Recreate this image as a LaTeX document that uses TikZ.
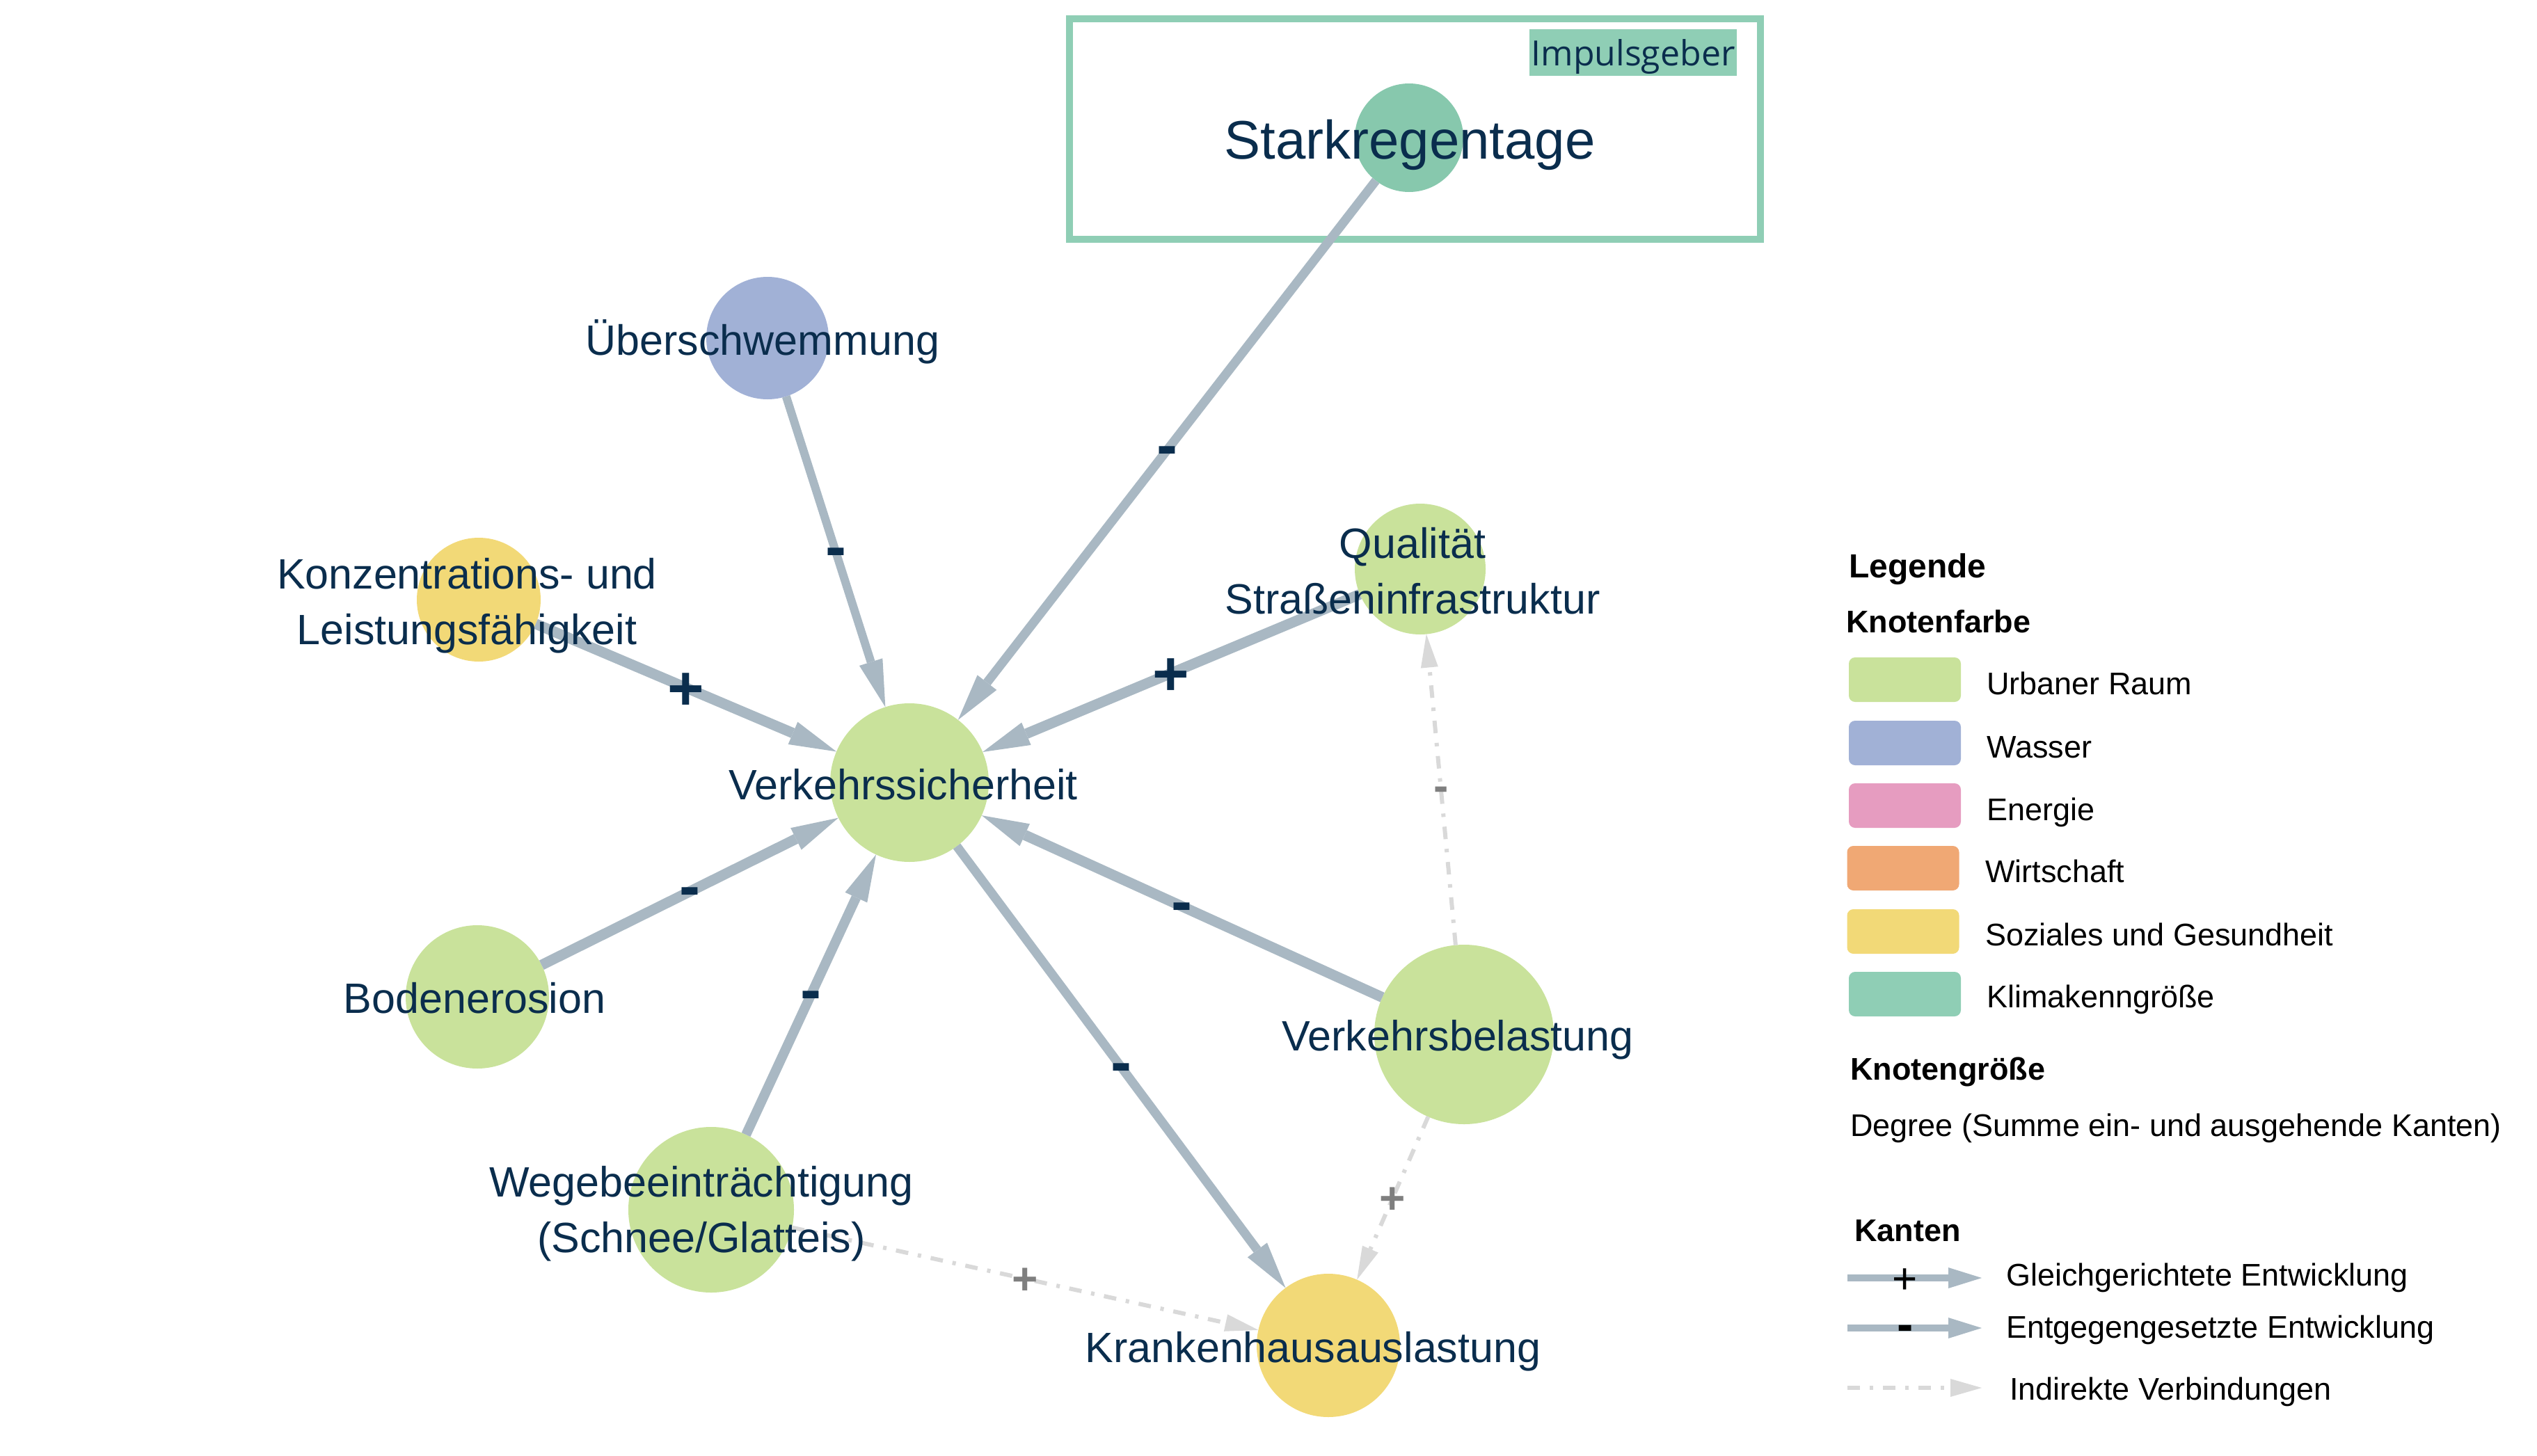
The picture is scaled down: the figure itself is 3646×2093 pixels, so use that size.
\documentclass[tikz,border=0pt]{standalone}
\usepackage{fontspec}
\setmainfont{Liberation Sans}
\newfontfamily\impfont{Open Sans}
\usetikzlibrary{arrows.meta}
\definecolor{edgec}{HTML}{A9B8C3}
\definecolor{navy}{HTML}{0A2D4D}
\definecolor{indc}{HTML}{D9D9D9}
\definecolor{signg}{HTML}{7F7F7F}
\definecolor{urb}{HTML}{C9E29B}
\definecolor{was}{HTML}{A1B1D6}
\definecolor{ene}{HTML}{E69CC0}
\definecolor{wir}{HTML}{F0A874}
\definecolor{soz}{HTML}{F2D977}
\definecolor{kli}{HTML}{8FCEB5}
\definecolor{klin}{HTML}{87C8AD}
\newcommand\fnode{\fontsize{61}{80}\selectfont}
\newcommand\fbig{\fontsize{78}{94}\selectfont}
\newcommand\fsign{\fontsize{90}{100}\selectfont\bfseries}
\newcommand\fsignsm{\fontsize{64}{70}\selectfont\bfseries}
\newcommand\fleg{\fontsize{45}{54}\selectfont}
\newcommand\flegt{\fontsize{48}{58}\selectfont\bfseries}
\newcommand\flegh{\fontsize{45}{54}\selectfont\bfseries}
\begin{document}
\begin{tikzpicture}[x=1pt,y=-1pt,
  vn/.style={circle,inner sep=0pt,outer sep=0pt,minimum size=#1},
  nlab/.style={font=\fnode,text=navy,inner sep=0pt,anchor=base,align=center},
  rel/.style={draw=edgec,line width=#1,-{Triangle[length=68pt,width=35pt,line width=0pt]}},
  ind/.style={draw=indc,line width=6pt,dash pattern=on 18pt off 14pt on 5pt off 14pt,-{Triangle[length=48pt,width=25pt,line width=0pt]}},
  pl/.style={font=\fsign,text=navy,inner sep=0pt,text height=64pt,text depth=0pt},
  mi/.style={font=\fsign,text=navy,inner sep=0pt,text height=47pt,text depth=0pt},
  gpl/.style={font=\fsignsm,text=signg,inner sep=0pt,text height=45pt,text depth=0pt},
  gmi/.style={font=\fsignsm,text=signg,inner sep=0pt,text height=33pt,text depth=0pt},
  lpl/.style={font={\fontsize{62}{70}\selectfont},text=black,inner sep=0pt,text height=44pt,text depth=0pt},
  lmi/.style={font={\fontsize{70}{80}\selectfont\bfseries},text=black,inner sep=0pt,text height=36pt,text depth=0pt},
  legbox/.style={rectangle,rounded corners=9pt,inner sep=0pt,minimum width=161pt,minimum height=64pt},
  legt/.style={anchor=base west,inner sep=0pt,font=\fleg,text=black},
]
\useasboundingbox (0,0) rectangle (3646,2093);

% Impulsgeber frame
\node[draw=kli,line width=10pt,minimum width=993pt,minimum height=317pt,inner sep=0pt] (impbox) at (2033.5,185.5) {};
\node[fill=kli,minimum width=298pt,minimum height=67pt,inner sep=0pt,font={\impfont\fontsize{50}{60}\selectfont},text=navy,text height=45pt,text depth=6pt] (imp) at (2347,75.5) {Impulsgeber};

% nodes
\node[vn=156pt,fill=klin] (ST) at (2025,198) {};
\node[vn=176pt,fill=was] (UE) at (1103,486) {};
\node[vn=178pt,fill=soz] (KO) at (688,862) {};
\node[vn=228pt,fill=urb] (VS) at (1307,1125) {};
\node[vn=188pt,fill=urb] (QU) at (2041,818) {};
\node[vn=206pt,fill=urb] (BO) at (686,1433) {};
\node[vn=238pt,fill=urb] (WE) at (1022,1739) {};
\node[vn=258pt,fill=urb] (VB) at (2104,1487) {};
\node[vn=206pt,fill=soz] (KH) at (1909,1934) {};

% edges
\draw[rel=13pt] (ST) -- node[mi,midway]{-} (VS);
\draw[rel=12pt] (UE) -- node[mi,midway]{-} (VS);
\draw[rel=15pt] (KO) -- node[pl,midway]{+} (VS);
\draw[rel=15pt] (QU) -- node[pl,midway]{+} (VS);
\draw[rel=15pt] (BO) -- node[mi,midway]{-} (VS);
\draw[rel=14pt] (WE) -- node[mi,midway]{-} (VS);
\draw[rel=13pt] (VS) -- node[mi,midway]{-} (KH);
\draw[rel=15pt] (VB) -- node[mi,midway]{-} (VS);
\draw[ind] (VB) -- node[gmi,midway]{-} (QU);
\draw[ind] (VB) -- node[gpl,midway]{+} (KH);
\draw[ind] (WE) -- node[gpl,midway]{+} (KH);

% node labels (multi-line: anchor base = last line)
\node[nlab,font=\fbig] (STt) at (2026,228) {Starkregentage};
\node[nlab] (UEt) at (1096,510) {Überschwemmung};
\node[nlab] (KOt) at (671,926) {Konzentrations- und\\Leistungsfähigkeit};
\node[nlab] (VSt) at (1298,1149) {Verkehrssicherheit};
\node[nlab] (QUt) at (2030,882) {Qualität\\Straßeninfrastruktur};
\node[nlab] (BOt) at (682,1456) {Bodenerosion};
\node[nlab] (WEt) at (1008,1800) {Wegebeeinträchtigung\\(Schnee/Glatteis)};
\node[nlab] (VBt) at (2095,1510) {Verkehrsbelastung};
\node[nlab] (KHt) at (1887,1958) {Krankenhausauslastung};

% legend
\node[legt,font=\flegt] (lg) at (2657,830) {Legende};
\node[legt,font=\flegh] (lkf) at (2653,909) {Knotenfarbe};
\node[legbox,fill=urb] (b1) at (2737.5,977) {};
\node[legbox,fill=was] (b2) at (2737.5,1068) {};
\node[legbox,fill=ene] (b3) at (2737.5,1158) {};
\node[legbox,fill=wir] (b4) at (2735,1248) {};
\node[legbox,fill=soz] (b5) at (2735,1339) {};
\node[legbox,fill=kli] (b6) at (2737.5,1429) {};
\node[legt] (t1) at (2855,998) {Urbaner Raum};
\node[legt] (t2) at (2855,1089) {Wasser};
\node[legt] (t3) at (2855,1179) {Energie};
\node[legt] (t4) at (2853,1268) {Wirtschaft};
\node[legt] (t5) at (2853,1359) {Soziales und Gesundheit};
\node[legt] (t6) at (2855,1448) {Klimakenngröße};
\node[legt,font=\flegh] (lkg) at (2659,1552) {Knotengröße};
\node[legt] (ldeg) at (2659,1633) {Degree (Summe ein- und ausgehende Kanten)};
\node[legt,font=\flegh] (lk) at (2665,1784) {Kanten};

\coordinate (a1) at (2655,1837);
\coordinate (a1e) at (2848,1837);
\coordinate (a2) at (2655,1909);
\coordinate (a2e) at (2848,1909);
\coordinate (a3) at (2655,1995);
\coordinate (a3e) at (2848,1995);
\draw[draw=edgec,line width=10pt,-{Triangle[length=48pt,width=30pt,line width=0pt]}] (a1) -- node[lpl,pos=0.43]{+} (a1e);
\draw[draw=edgec,line width=10pt,-{Triangle[length=48pt,width=30pt,line width=0pt]}] (a2) -- node[lmi,pos=0.43]{-} (a2e);
\draw[draw=indc,line width=6pt,dash pattern=on 18pt off 14pt on 5pt off 14pt,-{Triangle[length=45pt,width=26pt,line width=0pt]}] (a3) -- (a3e);
\node[legt] (e1) at (2883,1848) {Gleichgerichtete Entwicklung};
\node[legt] (e2) at (2883,1923) {Entgegengesetzte Entwicklung};
\node[legt] (e3) at (2888,2012) {Indirekte Verbindungen};
\end{tikzpicture}
\end{document}
